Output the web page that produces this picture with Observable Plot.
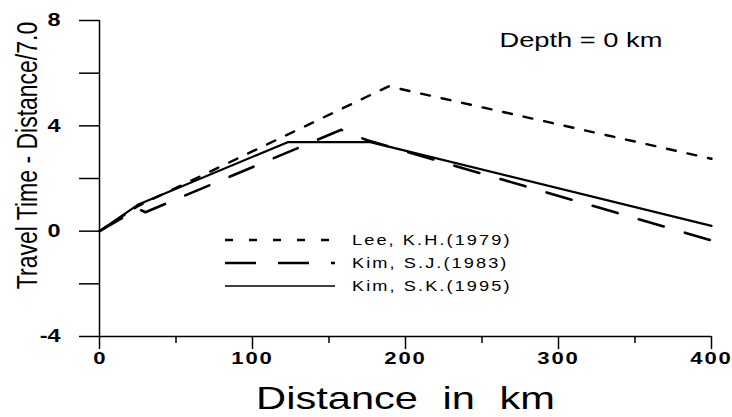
<!DOCTYPE html>
<html><head><meta charset="utf-8">
<script src="https://cdn.jsdelivr.net/npm/d3@7"></script>
<script src="https://cdn.jsdelivr.net/npm/@observablehq/plot@0.6"></script>
<style>
body{margin:0;background:#fff;}
#chart{position:relative;width:732px;height:417px;}
</style></head><body><div id="chart"></div>
<script>
// ---- data ----
const leeDist = [0, 25, 189, 400];
const leeTime = [0, 0.95, 5.5, 2.75];
const sjDist = [0, 25, 30, 158, 175, 400];
const sjTime = [0, 0.85, 0.72, 3.85, 3.45, -0.35];
const skDist = [0, 25, 123, 177, 400];
const skTime = [0, 1.0, 3.38, 3.38, 0.2];
const seriesNames = ["Lee, K.H.(1979)", "Kim, S.J.(1983)", "Kim, S.K.(1995)"];
const xMajorTicks = [0, 100, 200, 300, 400];
const xMinorTicks = [50, 150, 250, 350];
const yMajorTicks = [-4, 0, 4, 8];
const yMinorTicks = [-2, 2, 6];
const xLabel = "Distance in km";
const yLabel = "Travel Time - Distance/7.0";
const annotation = "Depth = 0 km";

// ---- styles ----
const FONT = "'Liberation Sans', Arial, sans-serif";
const SX = 1.3; // horizontal stretch of text glyphs
const styles = [
  {dash: "9,12", legendDash: "8,16", width: 2.4},
  {dash: "26,22", legendDash: "31,22", width: 2.6},
  {dash: null, legendDash: null, width: 2.2}
];
const toRows = (xs, ys) => xs.map((d, i) => ({d, t: ys[i]}));
const seriesRows = [toRows(leeDist, leeTime), toRows(sjDist, sjTime), toRows(skDist, skTime)];

const svg = Plot.plot({
  width: 732, height: 417,
  marginLeft: 99, marginRight: 21, marginTop: 20, marginBottom: 81,
  x: {domain: [0, 400]},
  y: {domain: [-4, 8]},
  style: {fontFamily: FONT, background: "white", color: "black"},
  marks: [
    Plot.axisY(yMinorTicks, {tickSize: 20, tickFormat: () => "", strokeWidth: 1.5, label: null}),
    Plot.axisY(yMajorTicks, {tickSize: 20, tickPadding: 19, tickFormat: d => String(d), fontSize: 18, fontWeight: "bold", strokeWidth: 1.5, label: null}),
    Plot.axisX(xMinorTicks, {tickSize: 7, tickFormat: () => "", strokeWidth: 1.5, label: null}),
    Plot.axisX(xMajorTicks, {tickSize: 13, tickPadding: 2, tickFormat: d => String(d), fontSize: 17, fontWeight: "bold", strokeWidth: 1.5, label: null}),
    Plot.ruleX([0], {strokeWidth: 1.5}),
    Plot.ruleY([-4], {strokeWidth: 1.5}),
    ...seriesRows.map((rows, i) => Plot.line(rows, {
      x: "d", y: "t", stroke: "black",
      strokeWidth: styles[i].width,
      strokeDasharray: styles[i].dash
    })),
    Plot.text([annotation], {frameAnchor: "top-right", dx: -49, dy: 20, lineAnchor: "middle", textAnchor: "end", fontSize: 21}),
    Plot.text([xLabel], {frameAnchor: "bottom", dy: 62, lineAnchor: "middle", fontSize: 32}),
    Plot.text([yLabel], {frameAnchor: "left", rotate: -90, dx: -72, dy: -23, lineAnchor: "middle", textAnchor: "middle", fontSize: 23})
  ]
});

// legend inside the plot area
const g = d3.select(svg).append("g").attr("font-family", FONT).attr("font-size", 14).attr("text-anchor", "start");
seriesNames.forEach((name, i) => {
  const y = 240 + i * 23;
  g.append("line").attr("x1", 225).attr("x2", 335).attr("y1", y).attr("y2", y)
    .attr("stroke", "black").attr("stroke-width", i === 2 ? 1.6 : 2.4)
    .attr("stroke-dasharray", styles[i].legendDash);
  g.append("text").attr("transform", `translate(352,${y})`).attr("dy", "0.35em")
    .attr("letter-spacing", 1.6).text(name);
});

// stretch all text horizontally like the reference
d3.select(svg).selectAll("text").each(function () {
  const tr = this.getAttribute("transform");
  if (tr && tr.startsWith("translate")) {
    this.setAttribute("transform", tr.replace(/(translate\([^)]*\))/, `$1 scale(${SX},1)`));
  }
});
d3.select(svg).selectAll("text").filter(function () { return this.textContent === xLabel; })
  .attr("word-spacing", 10);
d3.select(svg).selectAll("text").filter(function () { return /^\d+$/.test(this.textContent) && +this.textContent >= 100; })
  .attr("letter-spacing", 1.5);

document.getElementById("chart").appendChild(svg);
</script>
</body></html>
